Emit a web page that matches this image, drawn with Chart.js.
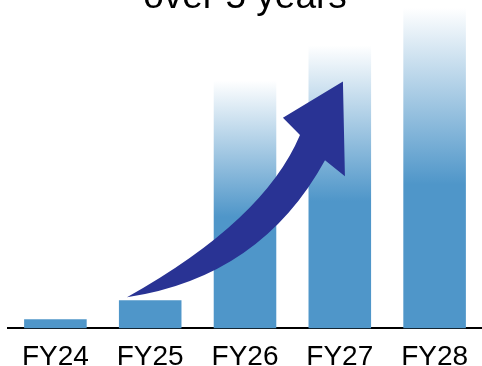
<!DOCTYPE html>
<html>
<head>
<meta charset="utf-8">
<script src="https://cdn.jsdelivr.net/npm/chart.js@4.4.1/dist/chart.umd.min.js"></script>
<style>
  html, body { margin: 0; padding: 0; background: #fff; overflow: hidden; width: 482px; height: 366px; }
  #wrap { position: absolute; left: 0; top: -24px; width: 482px; height: 410px; }
</style>
</head>
<body>
<div id="wrap"><canvas id="c"></canvas></div>
<script>
const categories = ['FY24', 'FY25', 'FY26', 'FY27', 'FY28'];
const values = [9, 28, 246, 281, 318];
const titleText = 'over 5 years';
// decorative growth arrow, in (category index, value) units
const arrowTail = [0.755, 31];
const arrowUpperCtrl = [2.2, 107];
const arrowNotchA = [2.58, 192];
const arrowBarbA = [2.40, 209];
const arrowTip = [3.033, 245];
const arrowBarbB = [3.054, 151];
const arrowNotchB = [2.844, 167];
const arrowLowerCtrl = [2.168, 51];

const SOLID = 'rgb(79,150,201)';
const FONT = "'Liberation Sans', Arial, sans-serif";

function barGradient(ctx) {
  const chart = ctx.chart;
  const area = chart.chartArea;
  if (!area || ctx.type !== 'data') return SOLID;
  const y = chart.scales.y;
  const v = values[ctx.dataIndex];
  const base = y.getPixelForValue(0);
  const top = y.getPixelForValue(v);
  if (v < 100) return SOLID;
  const g = chart.ctx.createLinearGradient(0, base, 0, top);
  g.addColorStop(0, SOLID);
  g.addColorStop(0.45, SOLID);
  g.addColorStop(1, 'rgba(255,255,255,1)');
  return g;
}

const arrowPlugin = {
  id: 'growthArrow',
  afterDatasetsDraw(chart) {
    const xs = chart.scales.x, ys = chart.scales.y, c = chart.ctx;
    const P = p => [xs.getPixelForValue(p[0]), ys.getPixelForValue(p[1])];
    const t = P(arrowTail), uc = P(arrowUpperCtrl), na = P(arrowNotchA), ba = P(arrowBarbA),
          tip = P(arrowTip), bb = P(arrowBarbB), nb = P(arrowNotchB), lc = P(arrowLowerCtrl);
    c.save();
    c.fillStyle = 'rgb(41,51,148)';
    c.beginPath();
    c.moveTo(t[0], t[1]);
    c.quadraticCurveTo(uc[0], uc[1], na[0], na[1]);
    c.lineTo(ba[0], ba[1]);
    c.lineTo(tip[0], tip[1]);
    c.lineTo(bb[0], bb[1]);
    c.lineTo(nb[0], nb[1]);
    c.quadraticCurveTo(lc[0], lc[1], t[0], t[1]);
    c.closePath();
    c.fill();
    c.restore();
  }
};

new Chart(document.getElementById('c'), {
  type: 'bar',
  data: {
    labels: categories,
    datasets: [{
      data: values,
      backgroundColor: barGradient,
      borderWidth: 0,
      barPercentage: 0.66,
      categoryPercentage: 1.0
    }]
  },
  options: {
    responsive: true,
    maintainAspectRatio: false,
    animation: false,
    events: [],
    layout: { padding: { left: 8, right: 0, top: 0, bottom: 0 } },
    plugins: {
      legend: { display: false },
      tooltip: { enabled: false },
      title: {
        display: true,
        text: titleText,
        color: '#000',
        font: { family: FONT, size: 37, weight: 'normal' },
        padding: { top: 0, bottom: -14.4 }
      }
    },
    scales: {
      x: {
        grid: { display: false, drawTicks: false },
        border: { display: true, color: '#000', width: 2 },
        ticks: { color: '#000', font: { family: FONT, size: 28 }, padding: 12, maxRotation: 0 }
      },
      y: {
        display: false,
        min: 0,
        max: 320
      }
    }
  },
  plugins: [arrowPlugin]
});
</script>
</body>
</html>
